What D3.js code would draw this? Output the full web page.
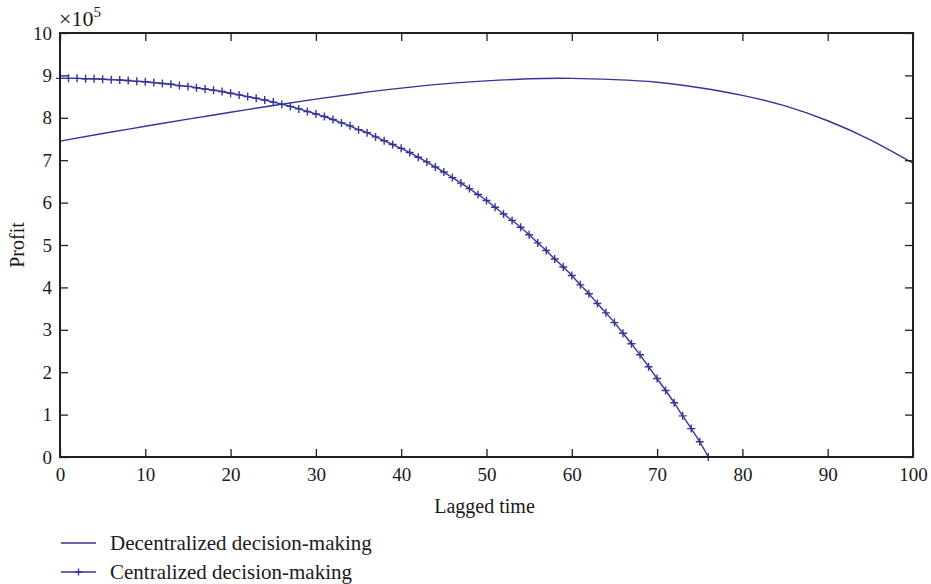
<!DOCTYPE html>
<html>
<head>
<meta charset="utf-8">
<script src="https://cdn.jsdelivr.net/npm/d3@7"></script>
<style>
  body { margin: 0; background: #fff; }
  svg { display: block; font-family: "Liberation Serif", "DejaVu Serif", serif; }
</style>
</head>
<body>
<svg id="chart" width="931" height="584"></svg>
<script>
// Data (profit in units of 1e5)
const decentralX = [0, 5, 10, 15, 20, 25, 30, 35, 40, 45, 50, 55, 60, 65, 70, 75, 80, 85, 90, 95, 100];
const decentralY = [7.45, 7.63, 7.80, 7.97, 8.13, 8.29, 8.44, 8.58, 8.70, 8.80, 8.87, 8.92, 8.93, 8.90, 8.84, 8.71, 8.53, 8.28, 7.93, 7.48, 6.93];

const centralX = d3.range(0, 77);
const centralY = [
  8.93, 8.93, 8.93, 8.92, 8.92, 8.91, 8.90, 8.89, 8.88, 8.86,
  8.85, 8.83, 8.81, 8.79, 8.76, 8.74, 8.71, 8.68, 8.65, 8.62,
  8.58, 8.54, 8.50, 8.46, 8.42, 8.37, 8.32, 8.27, 8.21, 8.15,
  8.09, 8.03, 7.96, 7.88, 7.81, 7.72, 7.65, 7.55, 7.46, 7.37,
  7.28, 7.18, 7.07, 6.96, 6.84, 6.72, 6.59, 6.46, 6.33, 6.19,
  6.05, 5.89, 5.73, 5.58, 5.42, 5.24, 5.05, 4.87, 4.67, 4.48,
  4.28, 4.06, 3.85, 3.62, 3.40, 3.17, 2.92, 2.67, 2.41, 2.13,
  1.85, 1.57, 1.28, 0.97, 0.67, 0.36, 0.00
];

const xTicks = [0, 10, 20, 30, 40, 50, 60, 70, 80, 90, 100];
const yTicks = [0, 1, 2, 3, 4, 5, 6, 7, 8, 9, 10];
const seriesNames = ['Decentralized decision-making', 'Centralized decision-making'];

const LINE_COLOR = '#34349a';
const AXIS_COLOR = '#231f20';
const TEXT_COLOR = '#1a1a1a';
const FONT = '"Liberation Serif", "DejaVu Serif", serif';
const TICK = 8;
const margin = { left: 60, top: 33, right: 18, bottom: 127 };
const W = 931, H = 584;
const pw = W - margin.left - margin.right;
const ph = H - margin.top - margin.bottom;

const svg = d3.select('#chart');
const g = svg.append('g').attr('transform', `translate(${margin.left},${margin.top})`);

const x = d3.scaleLinear().domain([0, 100]).range([0, pw]);
const y = d3.scaleLinear().domain([0, 10]).range([ph, 0]);

// series
const decentral = decentralX.map((d, i) => [d, decentralY[i]]);
const central = centralX.map((d, i) => [d, centralY[i]]);

const line = d3.line().x(d => x(d[0])).y(d => y(d[1]));

g.append('path').datum(decentral)
  .attr('d', line.curve(d3.curveNatural)(decentral))
  .attr('fill', 'none').attr('stroke', LINE_COLOR).attr('stroke-width', 1.4);

g.append('path').datum(central)
  .attr('d', line.curve(d3.curveMonotoneX)(central))
  .attr('fill', 'none').attr('stroke', LINE_COLOR).attr('stroke-width', 1.4);

const plus = (sel, s) => sel.append('path')
  .attr('d', `M${-s},0H${s}M0,${-s}V${s}`)
  .attr('stroke', LINE_COLOR).attr('stroke-width', 1.4).attr('fill', 'none');

g.append('g').selectAll('g').data(central).join('g')
  .attr('transform', d => `translate(${x(d[0])},${y(d[1])})`)
  .each(function () { plus(d3.select(this), 4); });

// axes: box with inward ticks on all four sides
const axisStyle = (sel) => {
  sel.select('.domain').remove();
  sel.selectAll('.tick line').attr('stroke', AXIS_COLOR).attr('stroke-width', 1.3);
  sel.selectAll('.tick text').attr('fill', TEXT_COLOR).style('font-size', '19px')
    .style('font-family', FONT);
};

g.append('g').attr('transform', `translate(0,${ph})`)
  .call(d3.axisBottom(x).tickValues(xTicks).tickSize(-TICK).tickPadding(7).tickFormat(d3.format('d')))
  .call(axisStyle)
  .call(s => s.selectAll('.tick text').attr('dy', '0.9em'));

g.append('g')
  .call(d3.axisTop(x).tickValues(xTicks).tickSize(-TICK).tickFormat(''))
  .call(axisStyle);

g.append('g')
  .call(d3.axisLeft(y).tickValues(yTicks).tickSize(-TICK).tickPadding(8).tickFormat(d3.format('d')))
  .call(axisStyle);

g.append('g').attr('transform', `translate(${pw},0)`)
  .call(d3.axisRight(y).tickValues(yTicks).tickSize(-TICK).tickFormat(''))
  .call(axisStyle);

g.append('rect').attr('width', pw).attr('height', ph)
  .attr('fill', 'none').attr('stroke', AXIS_COLOR).attr('stroke-width', 2);

// exponent label
const expo = svg.append('text').attr('x', margin.left - 1).attr('y', 26)
  .attr('fill', TEXT_COLOR).style('font-size', '22px');
expo.append('tspan').text('×10');
expo.append('tspan').attr('dy', -9).style('font-size', '15px').text('5');

// axis titles
svg.append('text').attr('x', margin.left + pw / 2 - 2).attr('y', 513)
  .attr('text-anchor', 'middle').attr('fill', TEXT_COLOR).style('font-size', '20px')
  .text('Lagged time');

svg.append('text')
  .attr('transform', `translate(24,${margin.top + ph / 2}) rotate(-90)`)
  .attr('text-anchor', 'middle').attr('fill', TEXT_COLOR).style('font-size', '20px')
  .text('Profit');

// legend
const legend = svg.append('g').attr('transform', 'translate(61,543)');
seriesNames.forEach((name, i) => {
  const row = legend.append('g').attr('transform', `translate(0,${i * 29})`);
  row.append('line').attr('x1', 0).attr('x2', 35)
    .attr('stroke', LINE_COLOR).attr('stroke-width', 1.4);
  if (i === 1) plus(row.append('g').attr('transform', 'translate(17.5,0)'), 3.5);
  row.append('text').attr('x', 49).attr('dy', '0.35em')
    .attr('fill', TEXT_COLOR).style('font-size', '21px').text(name);
});
</script>
</body>
</html>
